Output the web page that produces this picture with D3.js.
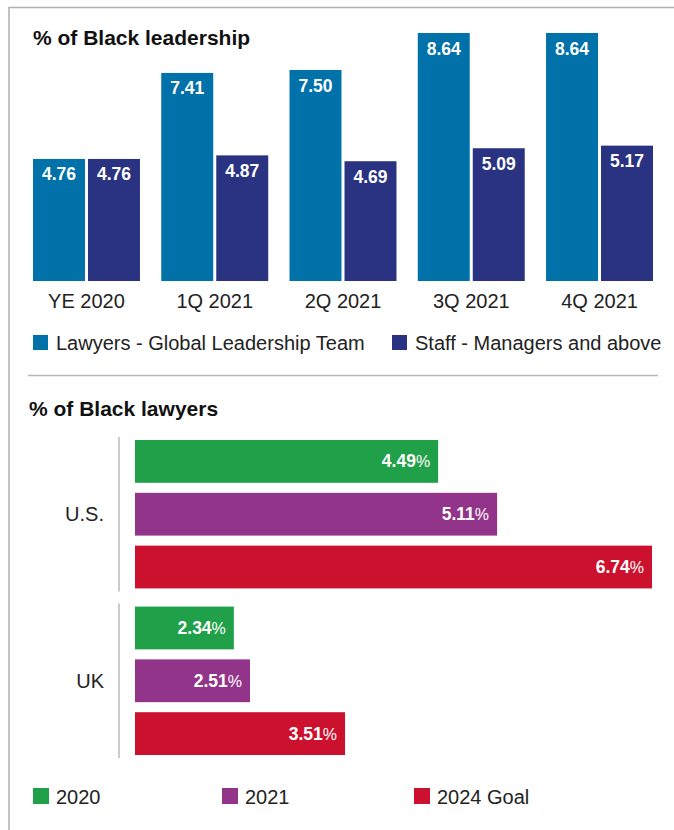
<!DOCTYPE html>
<html>
<head>
<meta charset="utf-8">
<script src="https://cdn.jsdelivr.net/npm/d3@7"></script>
<style>
    html, body { margin: 0; padding: 0; background: #fff; }
    svg { display: block; font-family: "Liberation Sans", Arial, Helvetica, sans-serif; }
</style>
</head>
<body>
<svg id="canvas" width="674" height="830"></svg>
<script>
// top chart: % of Black leadership
var quarters = ['YE 2020', '1Q 2021', '2Q 2021', '3Q 2021', '4Q 2021'];
var leaderSeries = ['Lawyers - Global Leadership Team', 'Staff - Managers and above'];
var lawyersValues = [4.76, 7.41, 7.50, 8.64, 8.64];
var staffValues = [4.76, 4.87, 4.69, 5.09, 5.17];
var leaderColors = ['#0071a9', '#2a3382'];

// bottom chart: % of Black lawyers
var regions = ['U.S.', 'UK'];
var years = ['2020', '2021', '2024 Goal'];
var usValues = [4.49, 5.11, 6.74];
var ukValues = [2.34, 2.51, 3.51];
var yearColors = ['#21a04a', '#923489', '#cc112e'];

function drawLeadership(svg) {
    "use strict";
    var BASELINE = 281;

    var x0 = d3.scaleBand().domain(quarters).range([33, 653]).paddingInner(0.166);
    var x1 = d3.scaleBand().domain(leaderSeries).range([0, x0.bandwidth()]).paddingInner(0.055);
    // the source art is not drawn to zero, so the scale starts at 1
    var y = d3.scaleLinear().domain([1, 8.64]).range([BASELINE, 33]);
    var color = d3.scaleOrdinal().domain(leaderSeries).range(leaderColors);

    svg.append('text')
        .attr('x', 33).attr('y', 45)
        .attr('font-size', '21px').attr('font-weight', 'bold').attr('fill', '#111')
        .text('% of Black leadership');

    var rows = quarters.map(function(q, i) {
        return { quarter: q, values: [lawyersValues[i], staffValues[i]] };
    });

    var groups = svg.selectAll('g.quarter')
        .data(rows)
        .enter().append('g')
        .attr('class', 'quarter')
        .attr('transform', function(d) { return 'translate(' + x0(d.quarter) + ',0)'; });

    var cells = groups.selectAll('g.cell')
        .data(function(d) {
            return d.values.map(function(v, j) { return { series: leaderSeries[j], value: v }; });
        })
        .enter().append('g').attr('class', 'cell');

    cells.append('rect')
        .attr('x', function(d) { return x1(d.series); })
        .attr('y', function(d) { return y(d.value); })
        .attr('width', x1.bandwidth())
        .attr('height', function(d) { return BASELINE - y(d.value); })
        .attr('fill', function(d) { return color(d.series); });

    cells.append('text')
        .attr('x', function(d) { return x1(d.series) + x1.bandwidth() / 2; })
        .attr('y', function(d) { return y(d.value) + 21.5; })
        .attr('text-anchor', 'middle')
        .attr('font-size', '17.5px').attr('font-weight', 'bold').attr('fill', '#fff')
        .text(function(d) { return d.value.toFixed(2); });

    var axis = d3.axisBottom(x0).tickSize(0).tickPadding(0);
    var axisG = svg.append('g').attr('transform', 'translate(0,' + BASELINE + ')').call(axis);
    axisG.select('.domain').remove();
    axisG.selectAll('text')
        .attr('dy', null).attr('y', 27)
        .attr('font-size', '20px').attr('fill', '#222')
        .attr('font-family', null);

    // legend
    var legendX = [33, 392];
    var legend = svg.selectAll('g.leader-legend')
        .data(leaderSeries)
        .enter().append('g')
        .attr('class', 'leader-legend')
        .attr('transform', function(d, i) { return 'translate(' + legendX[i] + ',335)'; });
    legend.append('rect').attr('width', 15).attr('height', 15).attr('fill', function(d) { return color(d); });
    legend.append('text').attr('x', 23).attr('y', 14.5)
        .attr('font-size', '20px').attr('fill', '#222')
        .text(function(d) { return d; });
}

function drawLawyers(svg) {
    "use strict";
    var TOP = 440;

    var yRegion = d3.scaleBand().domain(regions).range([TOP, 755]).paddingInner(0.109);
    var yYear = d3.scaleBand().domain(years).range([0, yRegion.bandwidth()]).paddingInner(0.19);
    // not to scale in the source either, so start the axis above zero
    var x = d3.scaleLinear().domain([1.3, 6.74]).range([135, 652]);
    var color = d3.scaleOrdinal().domain(years).range(yearColors);

    svg.append('text')
        .attr('x', 29).attr('y', 416)
        .attr('font-size', '21px').attr('font-weight', 'bold').attr('fill', '#111')
        .text('% of Black lawyers');

    var rows = regions.map(function(r, i) {
        return { region: r, values: i === 0 ? usValues : ukValues };
    });

    var groups = svg.selectAll('g.region')
        .data(rows)
        .enter().append('g')
        .attr('class', 'region')
        .attr('transform', function(d) { return 'translate(0,' + yRegion(d.region) + ')'; });

    groups.append('line')
        .attr('x1', 119).attr('x2', 119)
        .attr('y1', -3).attr('y2', yRegion.bandwidth() + 3)
        .attr('stroke', '#a8a8a8').attr('stroke-width', 1.2);

    groups.append('text')
        .attr('x', 104).attr('y', yRegion.bandwidth() / 2 + 7)
        .attr('text-anchor', 'end')
        .attr('font-size', '20px').attr('fill', '#222')
        .text(function(d) { return d.region; });

    var cells = groups.selectAll('g.cell')
        .data(function(d) {
            return d.values.map(function(v, j) { return { year: years[j], value: v }; });
        })
        .enter().append('g').attr('class', 'cell');

    cells.append('rect')
        .attr('x', x.range()[0])
        .attr('y', function(d) { return yYear(d.year); })
        .attr('width', function(d) { return x(d.value) - x.range()[0]; })
        .attr('height', yYear.bandwidth())
        .attr('fill', function(d) { return color(d.year); });

    var label = cells.append('text')
        .attr('x', function(d) { return x(d.value) - 8; })
        .attr('y', function(d) { return yYear(d.year) + yYear.bandwidth() / 2 + 6; })
        .attr('text-anchor', 'end')
        .attr('fill', '#fff');
    label.append('tspan')
        .attr('font-size', '17.5px').attr('font-weight', 'bold')
        .text(function(d) { return d.value.toFixed(2); });
    label.append('tspan')
        .attr('font-size', '16px')
        .text('%');

    // legend
    var legendX = [33, 222, 414];
    var legend = svg.selectAll('g.year-legend')
        .data(years)
        .enter().append('g')
        .attr('class', 'year-legend')
        .attr('transform', function(d, i) { return 'translate(' + legendX[i] + ',788)'; });
    legend.append('rect').attr('width', 16).attr('height', 16).attr('fill', function(d) { return color(d); });
    legend.append('text').attr('x', 23).attr('y', 15.5)
        .attr('font-size', '20px').attr('fill', '#222')
        .text(function(d) { return d; });
}

var svg = d3.select(document.getElementById('canvas'));

// frame and divider
svg.append('path')
    .attr('d', 'M9,830V7.5H674')
    .attr('fill', 'none').attr('stroke', '#b0b0b0').attr('stroke-width', 1.5);
svg.append('line')
    .attr('x1', 28).attr('x2', 658).attr('y1', 375.5).attr('y2', 375.5)
    .attr('stroke', '#b8b8b8').attr('stroke-width', 1.5);

drawLeadership(svg);
drawLawyers(svg);
</script>
</body>
</html>
